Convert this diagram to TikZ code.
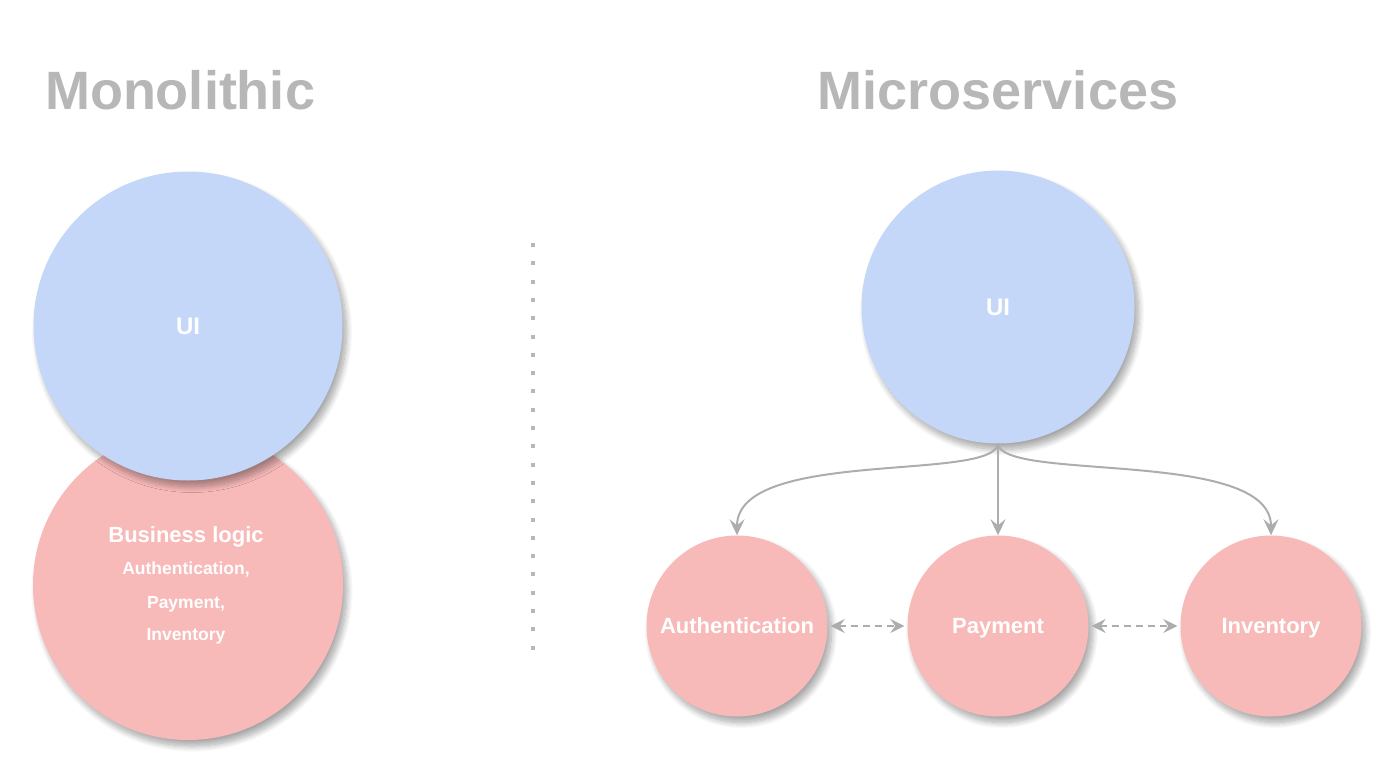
\documentclass[tikz,border=0pt]{standalone}
\usepackage{fontspec}
\setmainfont{Liberation Sans}
\usetikzlibrary{arrows.meta,shadows.blur}
\definecolor{uiblue}{HTML}{C5D7F8}
\definecolor{logicpink}{HTML}{F8B9B9}
\definecolor{titlegray}{HTML}{B7B7B7}
\definecolor{linkgray}{HTML}{ADADAD}

\begin{document}
\begin{tikzpicture}[x=1pt, y=-1pt,
                every node/.style={font=\bfseries, text=white},
                blob/.style={circle, inner sep=0pt, align=center, text depth=0pt,
                    blur shadow={shadow xshift=4pt, shadow yshift=-6pt, shadow blur radius=6pt, shadow blur steps=12, shadow opacity=35}},
                uinode/.style={blob, fill=uiblue},
                svcnode/.style={blob, fill=logicpink},
                heading/.style={text=titlegray, font=\bfseries\fontsize{54}{60}\selectfont},
                call/.style={draw=linkgray, line width=2pt, -{Stealth[length=16pt, width=15pt, inset=6pt]}},
                peer/.style={draw=linkgray, line width=2pt, dash pattern=on 7pt off 5pt, {Stealth[length=14pt, width=14pt, inset=5pt]}-{Stealth[length=14pt, width=14pt, inset=5pt]}},
            ]
            \useasboundingbox (0,0) rectangle (1400,779);

            % Monolithic
            \node[heading] (tmono) at (180,90) {Monolithic};
            \node[svcnode, minimum size=310pt] (logic) at (188,585) {};
            \node[uinode, minimum size=309pt, font=\bfseries\fontsize{24}{28}\selectfont] (ui1) at (188,326) {UI};
            \node[font=\bfseries\fontsize{22}{26}\selectfont] (tlogic) at (186,537) {Business logic};
            \node[font=\bfseries\fontsize{17.5}{20}\selectfont] (tauth) at (186,570) {Authentication,};
            \node[font=\bfseries\fontsize{17.5}{20}\selectfont] (tpay) at (186,604) {Payment,};
            \node[font=\bfseries\fontsize{17.5}{20}\selectfont] (tinv) at (186,636) {Inventory};

            % separator
            \draw[titlegray, line width=4pt, dash pattern=on 4pt off 14.3pt] (533,243) -- (533,650);

            % Microservices
            \node[heading] (tmicro) at (998,90) {Microservices};
            \node[uinode, minimum size=273pt, font=\bfseries\fontsize{24}{28}\selectfont] (ui2) at (998,307) {UI};
            \node[svcnode, minimum size=181pt, font=\bfseries\fontsize{22}{26}\selectfont] (auth) at (737,626) {Authentication};
            \node[svcnode, minimum size=181pt, font=\bfseries\fontsize{22}{26}\selectfont] (pay) at (998,626) {Payment};
            \node[svcnode, minimum size=181pt, font=\bfseries\fontsize{22}{26}\selectfont] (inv) at (1271,626) {Inventory};

            \draw[call] (ui2.south) .. controls (994,482) and (737,448) .. (auth.north);
            \draw[call] (ui2.south) -- (pay.north);
            \draw[call] (ui2.south) .. controls (1002,482) and (1271,448) .. (inv.north);

            \draw[peer, shorten <=3pt, shorten >=3pt] (auth.east) -- (pay.west);
            \draw[peer, shorten <=3pt, shorten >=3pt] (pay.east) -- (inv.west);
        \end{tikzpicture}
\end{document}
